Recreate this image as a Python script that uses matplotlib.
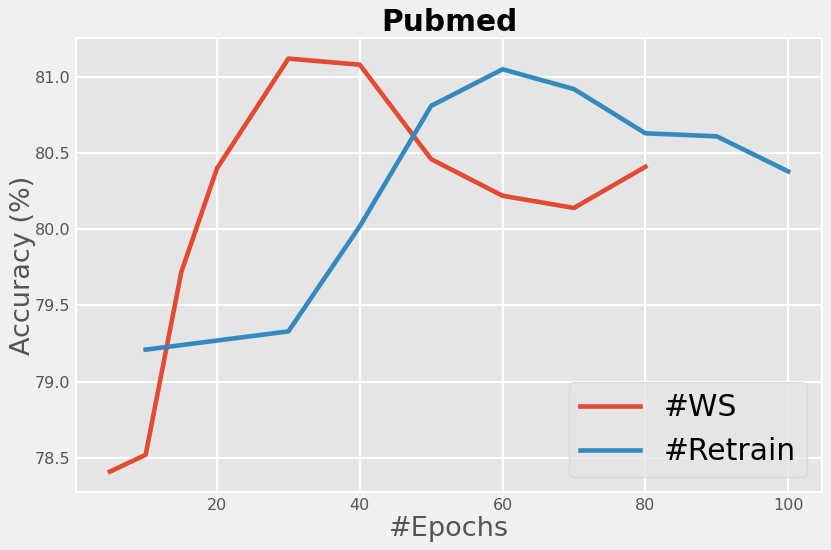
import matplotlib
matplotlib.use("Agg")
import matplotlib.pyplot as plt

ws_epochs = [5, 10, 15, 20, 30, 40, 50, 60, 70, 80]
ws_acc = [78.41, 78.52, 79.72, 80.40, 81.12, 81.08, 80.46, 80.22, 80.14, 80.41]
rt_epochs = [10, 30, 40, 50, 60, 70, 80, 90, 100]
rt_acc = [79.21, 79.33, 80.02, 80.81, 81.05, 80.92, 80.63, 80.61, 80.38]
labels = ["#WS", "#Retrain"]
title = "Pubmed"

fig = plt.figure(figsize=(8.31, 5.5), dpi=100, facecolor="#f0f0f0")
ax = fig.add_axes([0.0915, 0.105, 0.8977, 0.826])
ax.set_facecolor("#e5e5e5")
for s in ax.spines.values():
    s.set_color("white")
    s.set_linewidth(1.5)
ax.grid(True, color="white", linewidth=1.5)
ax.set_axisbelow(True)

ax.plot(ws_epochs, ws_acc, color="#E24A33", linewidth=3.3, label=labels[0])
ax.plot(rt_epochs, rt_acc, color="#348ABD", linewidth=3.3, label=labels[1])

ax.set_xticks([20, 40, 60, 80, 100])
ax.set_yticks([78.5, 79.0, 79.5, 80.0, 80.5, 81.0])
ax.tick_params(axis="both", labelsize=11.5, colors="#555555", length=0, pad=4)
ax.set_xlabel("#Epochs", fontsize=19.5, color="#555555", labelpad=2)
ax.set_ylabel("Accuracy (%)", fontsize=19.5, color="#555555", labelpad=-1)
ax.set_title(title, fontsize=21.3, fontweight="bold", color="black", pad=5)

leg = ax.legend(loc="lower right", fontsize=21.5, frameon=True, facecolor="#e5e5e5",
                edgecolor="#d8d8d8", framealpha=0.8, handlelength=2.0, handletextpad=0.8,
                borderpad=0.38, labelspacing=0.5, borderaxespad=0.5)

fig.savefig("out.png", dpi=100, facecolor=fig.get_facecolor())
